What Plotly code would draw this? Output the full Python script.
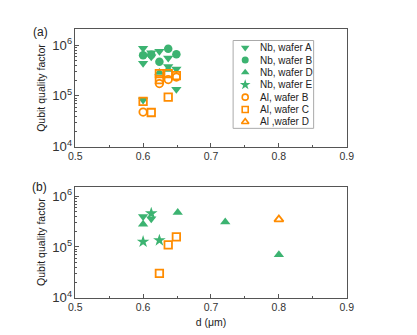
import plotly.graph_objects as go

# ---- data ----
series_names = ["Nb, wafer A", "Nb, wafer B", "Nb, wafer D", "Nb, wafer E",
                "Al, wafer B", "Al, wafer C", "Al ,wafer D"]

# panel (a)
a_nbA_x = [0.600, 0.600, 0.612, 0.612, 0.624, 0.637, 0.637, 0.649, 0.649, 0.600]
a_nbA_y = [8.7e5, 4.4e5, 7.1e5, 5.9e5, 7.6e5, 5.6e5, 3.8e5, 3.4e5, 1.35e5, 8.3e4]
a_nbB_x = [0.600, 0.612, 0.624, 0.637, 0.649]
a_nbB_y = [6.3e5, 6.5e5, 4.7e5, 8.5e5, 6.6e5]
a_nbD_x = [0.624, 0.637]
a_nbD_y = [2.9e5, 3.3e5]
a_nbE_x = []
a_nbE_y = []
a_alB_x = [0.600, 0.624, 0.637, 0.649]
a_alB_y = [4.8e4, 1.75e5, 2.1e5, 2.35e5]
a_alC_x = [0.600, 0.612, 0.624, 0.624, 0.637, 0.637, 0.649]
a_alC_y = [7.8e4, 4.7e4, 2.75e5, 2.1e5, 2.75e5, 9.5e4, 2.5e5]
a_alD_x = []
a_alD_y = []

# panel (b)
b_nbA_x = [0.600, 0.612]
b_nbA_y = [4.0e5, 3.6e5]
b_nbB_x = []
b_nbB_y = []
b_nbD_x = [0.600, 0.651, 0.721, 0.800]
b_nbD_y = [2.8e5, 4.8e5, 3.1e5, 7.0e4]
b_nbE_x = [0.612, 0.600, 0.624]
b_nbE_y = [4.6e5, 1.27e5, 1.35e5]
b_alB_x = []
b_alB_y = []
b_alC_x = [0.624, 0.637, 0.649]
b_alC_y = [3.0e4, 1.1e5, 1.58e5]
b_alD_x = [0.800]
b_alD_y = [3.5e5]

x_ticks = [0.5, 0.6, 0.7, 0.8, 0.9]

GREEN = "#3CB371"
ORANGE = "#FF8C00"
FONT = "Arial, Liberation Sans, sans-serif"

symbols = ["triangle-down", "circle", "triangle-up", "star",
           "circle-open", "square-open", "triangle-up-open"]
colors = [GREEN] * 4 + [ORANGE] * 3
sizes = [9, 8.5, 9, 9.5, 7.5, 7.5, 8]

panel_a = [(a_nbA_x, a_nbA_y), (a_nbB_x, a_nbB_y), (a_nbD_x, a_nbD_y), (a_nbE_x, a_nbE_y),
           (a_alB_x, a_alB_y), (a_alC_x, a_alC_y), (a_alD_x, a_alD_y)]
panel_b = [(b_nbA_x, b_nbA_y), (b_nbB_x, b_nbB_y), (b_nbD_x, b_nbD_y), (b_nbE_x, b_nbE_y),
           (b_alB_x, b_alB_y), (b_alC_x, b_alC_y), (b_alD_x, b_alD_y)]

fig = go.Figure()

for axes, data in [(("x", "y"), panel_a), (("x2", "y2"), panel_b)]:
    for i, (xs, ys) in enumerate(data):
        if not xs:
            continue
        fig.add_trace(go.Scatter(
            x=xs, y=ys, mode="markers", name=series_names[i],
            xaxis=axes[0], yaxis=axes[1], showlegend=False,
            marker=dict(symbol=symbols[i], size=sizes[i], color=colors[i],
                        line=dict(color=colors[i], width=1.8 if i >= 4 else 0)),
        ))

# hand made legend (plotly's own legend rows are too tall here)
for i, name in enumerate(series_names):
    fig.add_trace(go.Scatter(
        x=[0.15], y=[i], mode="markers", xaxis="x3", yaxis="y3", showlegend=False,
        marker=dict(symbol=symbols[i], size=sizes[i] - 1.5, color=colors[i],
                    line=dict(color=colors[i], width=1.6 if i >= 4 else 0)),
        hoverinfo="skip",
    ))
    fig.add_annotation(x=0.31, y=i, xref="x3", yref="y3", text=name, showarrow=False,
                       xanchor="left", yanchor="middle",
                       font=dict(family=FONT, size=10, color="#222"))

W, H = 417, 335
def px(v):
    return v / W
def py(v):
    return (H - v) / H

axis_common = dict(showline=True, linecolor="#555", linewidth=1.2, mirror=True,
                   ticks="inside", tickcolor="#555", showgrid=False, zeroline=False,
                   tickfont=dict(family=FONT, size=10.5, color="#333"))

xcommon = dict(axis_common, range=[0.5, 0.9], tickvals=x_ticks, ticklen=4,
               minor=dict(ticks="inside", dtick=0.05, ticklen=2, tickcolor="#555"))
ycommon = dict(axis_common, type="log", dtick=1, exponentformat="power", ticklen=4,
               minor=dict(ticks="inside", dtick="D1", ticklen=2, tickcolor="#555"))

ytitle = dict(text="Qubit quality factor", font=dict(family=FONT, size=10.5, color="#222"),
              standoff=4)

fig.update_layout(
    width=W, height=H,
    margin=dict(l=0, r=0, t=0, b=0),
    paper_bgcolor="white", plot_bgcolor="white",
    xaxis=dict(xcommon, domain=[px(62.3), px(343.3)], anchor="y"),
    yaxis=dict(ycommon, domain=[py(142), py(22)], range=[4, 6.31], anchor="x", title=ytitle),
    xaxis2=dict(xcommon, domain=[px(62.3), px(343.3)], anchor="y2",
                title=dict(text="d (μm)", font=dict(family=FONT, size=10.5, color="#222"),
                           standoff=6)),
    yaxis2=dict(ycommon, domain=[py(296.7), py(183)], range=[4, 6.19], anchor="x2", title=ytitle),
    xaxis3=dict(domain=[px(225.7), px(309)], range=[0, 1], visible=False, anchor="y3"),
    yaxis3=dict(domain=[py(123.3), py(33.3)], range=[6.52, -0.58], visible=False, anchor="x3"),
    shapes=[dict(type="rect", xref="paper", yref="paper",
                 x0=px(225.7), x1=px(309), y0=py(123.3), y1=py(33.3),
                 line=dict(color="#aaa", width=1))],
    font=dict(family=FONT),
)

fig.add_annotation(x=px(17), y=py(15), xref="paper", yref="paper", text="(a)",
                   showarrow=False, font=dict(family=FONT, size=12, color="#222"))
fig.add_annotation(x=px(16), y=py(183), xref="paper", yref="paper", text="(b)",
                   showarrow=False, font=dict(family=FONT, size=12, color="#222"))

fig.write_html("out.html")
